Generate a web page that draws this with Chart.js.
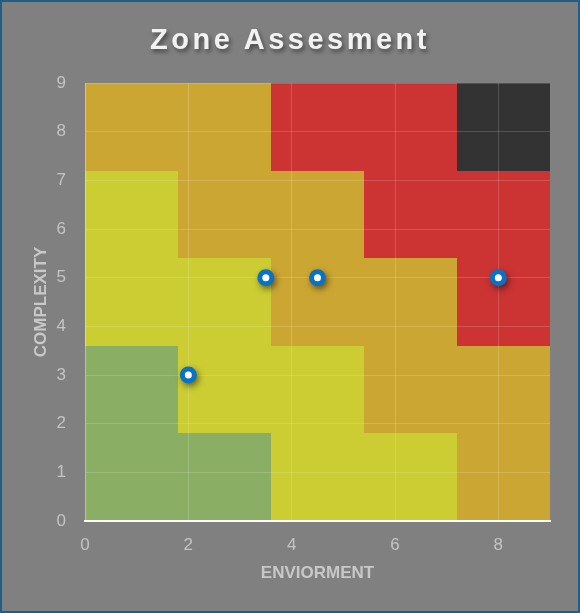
<!DOCTYPE html>
<html>
<head>
<meta charset="utf-8">
<script src="https://cdn.jsdelivr.net/npm/chart.js@4/dist/chart.umd.min.js"></script>
<style>
  html, body { margin: 0; padding: 0; background: #808080; }
  #frame { position: relative; width: 580px; height: 613px; box-sizing: border-box; border: 2px solid #1d5f88; background: #808080; overflow: hidden; }
  #title { position: absolute; left: 0; top: 17px; width: 576px; text-align: center; font-family: "Liberation Sans", Arial, sans-serif; font-weight: bold; font-size: 29px; letter-spacing: 3.5px; color: #f2f2f2; text-shadow: 2px 3px 4px rgba(0,0,0,0.45); line-height: 40px; }
  #wrap { position: absolute; left: 0; top: 0; width: 576px; height: 609px; }
</style>
</head>
<body>
<div id="frame">
  <div id="wrap"><canvas id="c"></canvas></div>
  <div id="title">Zone Assesment</div>
</div>
<script>
// ---- data ----
const titleText = 'Zone Assesment';
const xAxisTitle = 'ENVIORMENT';
const yAxisTitle = 'COMPLEXITY';
const axisMin = 0;
const axisMax = 9;
const xStep = 2;
const yStep = 1;
// zone level per cell, rows from bottom (complexity low) to top, columns left to right
const zoneRow0 = [0, 0, 1, 1, 2];
const zoneRow1 = [0, 1, 1, 2, 2];
const zoneRow2 = [1, 1, 2, 2, 3];
const zoneRow3 = [1, 2, 2, 3, 3];
const zoneRow4 = [2, 2, 3, 3, 4];
const zoneRows = [zoneRow0, zoneRow1, zoneRow2, zoneRow3, zoneRow4];
const zoneColors = ['#8aae64', '#cccc33', '#cca633', '#cc3333', '#333333'];
// assessment points
const environmentValues = [2, 3.5, 4.5, 8];
const complexityValues = [3, 5, 5, 5];

const points = environmentValues.map((x, i) => ({ x: x, y: complexityValues[i] }));

const zonePlugin = {
  id: 'zones',
  beforeDraw(chart) {
    const { ctx, scales: { x, y } } = chart;
    const nRows = zoneRows.length;
    const cell = (axisMax - axisMin) / nRows;
    ctx.save();
    zoneRows.forEach((row, r) => {
      row.forEach((lvl, c) => {
        const x0 = x.getPixelForValue(axisMin + c * cell);
        const x1 = x.getPixelForValue(axisMin + (c + 1) * cell);
        const y0 = y.getPixelForValue(axisMin + (r + 1) * cell);
        const y1 = y.getPixelForValue(axisMin + r * cell);
        ctx.fillStyle = zoneColors[lvl];
        ctx.fillRect(Math.round(x0), Math.round(y0), Math.round(x1) - Math.round(x0), Math.round(y1) - Math.round(y0));
      });
    });
    ctx.restore();
  }
};

const shadowPlugin = {
  id: 'pointShadow',
  beforeDatasetDraw(chart, args) {
    const ctx = chart.ctx;
    ctx.save();
    if (args.index === 1) {
      ctx.shadowColor = 'rgba(0,0,0,0.5)';
      ctx.shadowBlur = 6;
      ctx.shadowOffsetX = 2;
      ctx.shadowOffsetY = 3;
    }
  },
  afterDatasetDraw(chart) {
    chart.ctx.restore();
  }
};

const tickColor = '#c4c4c4';
const titleColor = '#c8c8c8';
const gridColor = 'rgba(255,255,255,0.16)';

new Chart(document.getElementById('c'), {
  type: 'scatter',
  data: {
    datasets: [{
      label: titleText + ' centre',
      data: points,
      order: 0,
      backgroundColor: '#ffffff',
      borderWidth: 0,
      pointRadius: 3.5,
      pointHoverRadius: 3.5
    }, {
      label: titleText,
      data: points,
      order: 1,
      backgroundColor: '#0a72c6',
      borderWidth: 0,
      pointRadius: 8.5,
      pointHoverRadius: 8.5
    }]
  },
  plugins: [zonePlugin, shadowPlugin],
  options: {
    responsive: true,
    maintainAspectRatio: false,
    animation: false,
    events: [],
    layout: { padding: { top: 81, left: 0, right: 28, bottom: 0 } },
    plugins: {
      legend: { display: false },
      title: { display: false },
      tooltip: { enabled: false }
    },
    scales: {
      x: {
        type: 'linear',
        min: axisMin,
        max: axisMax,
        afterFit(s) { s.height = 90; },
        ticks: {
          stepSize: xStep,
          includeBounds: false,
          color: tickColor,
          padding: 14,
          font: { family: '"Liberation Sans", Arial, sans-serif', size: 17 }
        },
        grid: { color: gridColor, drawTicks: false },
        border: { display: true, color: '#ffffff', width: 2 },
        title: {
          display: true,
          text: xAxisTitle,
          color: titleColor,
          padding: { top: 0, bottom: 27 },
          font: { family: '"Liberation Sans", Arial, sans-serif', size: 17, weight: 'bold' }
        }
      },
      y: {
        type: 'linear',
        min: axisMin,
        max: axisMax,
        afterFit(s) { s.width = 83; },
        ticks: {
          stepSize: yStep,
          color: tickColor,
          padding: 19,
          font: { family: '"Liberation Sans", Arial, sans-serif', size: 17 }
        },
        grid: { color: gridColor, drawTicks: false },
        border: { display: true, color: 'rgba(255,255,255,0.2)', width: 1 },
        title: {
          display: true,
          text: yAxisTitle,
          color: titleColor,
          padding: { top: 29, bottom: 0 },
          font: { family: '"Liberation Sans", Arial, sans-serif', size: 17, weight: 'bold' }
        }
      }
    }
  }
});
</script>
</body>
</html>
